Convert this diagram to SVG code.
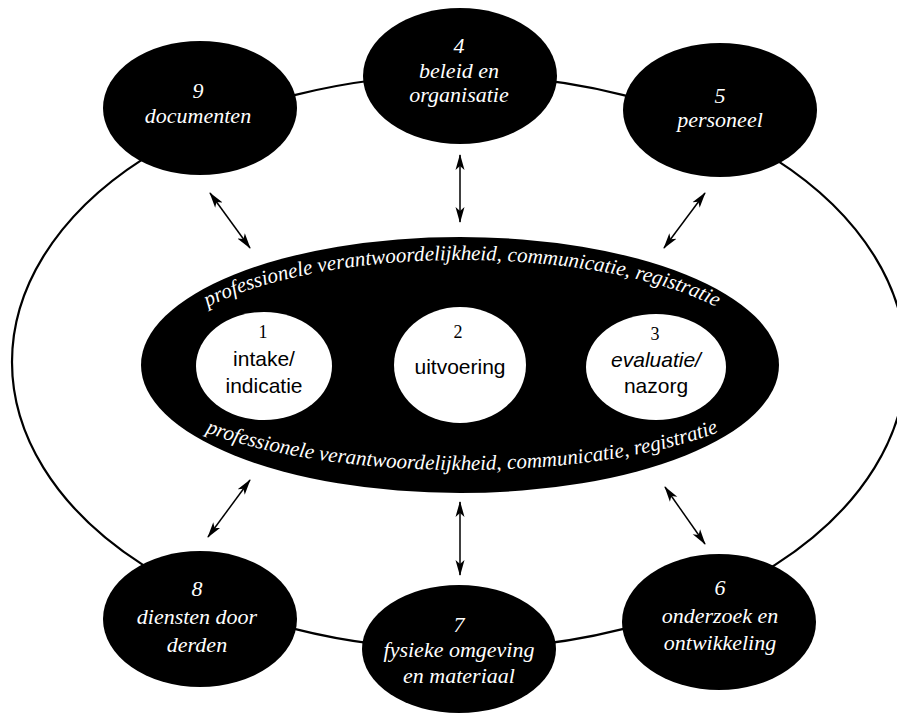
<svg xmlns="http://www.w3.org/2000/svg" xmlns:xlink="http://www.w3.org/1999/xlink" width="897" height="717" viewBox="0 0 897 717">
<defs>
<style>
.node{fill:#000;}
.nt{font-family:"Liberation Serif","Times New Roman",serif;font-style:italic;font-size:22px;fill:#fff;text-anchor:middle;}
.ct{font-family:"Liberation Sans",Arial,sans-serif;font-size:21px;fill:#000;text-anchor:middle;}
.cd{font-family:"Liberation Serif","Times New Roman",serif;font-size:18px;fill:#000;text-anchor:middle;}
.arc{font-family:"Liberation Serif","Times New Roman",serif;font-style:italic;font-size:21px;fill:#fff;}
.link{fill:none;stroke:#000;stroke-width:2.2;}
.arr{fill:none;stroke:#000;stroke-width:1.5;marker-start:url(#ah);marker-end:url(#ah);}
</style>
<marker id="ah" viewBox="0 0 16 10" refX="15" refY="5" markerWidth="16" markerHeight="10" markerUnits="userSpaceOnUse" orient="auto-start-reverse">
<path d="M0,0.5 L16,5 L0,9.5 L4,5 Z" fill="#000"/>
</marker>
<path id="topArc" d="M156,366 A306,106 0 0 1 768,366"/>
<path id="botArc" d="M128,365 A334,105 0 0 0 796,365"/>
</defs>
<rect width="897" height="717" fill="#fff"/>
<g id="connectors">
<ellipse class="link" cx="459" cy="362" rx="447" ry="287"/>
<line class="arr" x1="210" y1="193" x2="250" y2="248"/>
<line class="arr" x1="460" y1="155" x2="460" y2="222"/>
<line class="arr" x1="705" y1="193" x2="664" y2="248"/>
<line class="arr" x1="250" y1="480" x2="208" y2="537"/>
<line class="arr" x1="460" y1="502" x2="460" y2="575"/>
<line class="arr" x1="665" y1="487" x2="705" y2="544"/>
</g>
<g id="node9">
<ellipse class="node" cx="200" cy="108" rx="97" ry="67"/>
<text class="nt" x="198" y="98">9</text>
<text class="nt" x="198" y="123">documenten</text>
</g>
<g id="node4">
<ellipse class="node" cx="460" cy="76" rx="97" ry="68"/>
<text class="nt" x="459" y="53">4</text>
<text class="nt" x="459" y="78">beleid en</text>
<text class="nt" x="459" y="102">organisatie</text>
</g>
<g id="node5">
<ellipse class="node" cx="720" cy="110" rx="97" ry="67"/>
<text class="nt" x="720" y="103">5</text>
<text class="nt" x="720" y="127">personeel</text>
</g>
<g id="node8">
<ellipse class="node" cx="200" cy="619" rx="97" ry="68"/>
<text class="nt" x="197" y="596">8</text>
<text class="nt" x="197" y="624">diensten door</text>
<text class="nt" x="197" y="652">derden</text>
</g>
<g id="node7">
<ellipse class="node" cx="459" cy="649" rx="97" ry="64"/>
<text class="nt" x="459" y="632">7</text>
<text class="nt" x="459" y="657">fysieke omgeving</text>
<text class="nt" x="459" y="683">en materiaal</text>
</g>
<g id="node6">
<ellipse class="node" cx="719" cy="622" rx="97" ry="68"/>
<text class="nt" x="720" y="595">6</text>
<text class="nt" x="720" y="623">onderzoek en</text>
<text class="nt" x="720" y="650">ontwikkeling</text>
</g>
<g id="center">
<ellipse class="node" cx="460" cy="365" rx="319" ry="128"/>
<text class="arc"><textPath xlink:href="#topArc" href="#topArc" startOffset="50%" text-anchor="middle">professionele verantwoordelijkheid, communicatie, registratie</textPath></text>
<text class="arc"><textPath xlink:href="#botArc" href="#botArc" startOffset="50%" text-anchor="middle">professionele verantwoordelijkheid, communicatie, registratie</textPath></text>
</g>
<g id="step1">
<ellipse cx="264" cy="366" rx="68" ry="54" fill="#fff"/>
<text class="cd" x="263" y="338">1</text>
<text class="ct" x="264" y="366">intake/</text>
<text class="ct" x="264" y="393">indicatie</text>
</g>
<g id="step2">
<ellipse cx="460" cy="365" rx="66" ry="58" fill="#fff"/>
<text class="cd" x="458" y="338">2</text>
<text class="ct" x="460" y="374">uitvoering</text>
</g>
<g id="step3">
<ellipse cx="656" cy="367" rx="70" ry="53" fill="#fff"/>
<text class="cd" x="655" y="340">3</text>
<text class="ct" x="656" y="367" font-style="italic">evaluatie/</text>
<text class="ct" x="656" y="393">nazorg</text>
</g>
</svg>
